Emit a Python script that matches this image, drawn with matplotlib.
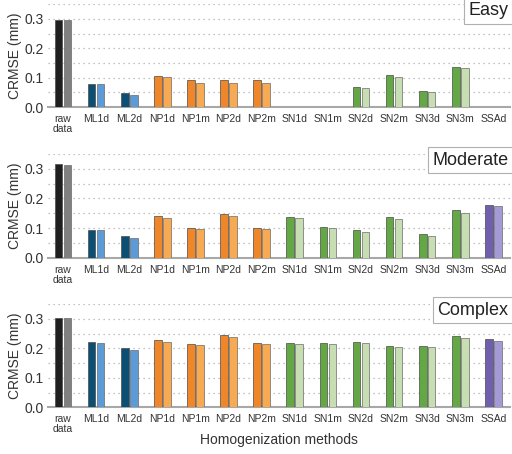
import numpy as np
import matplotlib.pyplot as plt

plt.rcParams['font.family'] = ['Liberation Sans', 'DejaVu Sans']

methods = ['raw\ndata', 'ML1d', 'ML2d', 'NP1d', 'NP1m', 'NP2d', 'NP2m',
           'SN1d', 'SN1m', 'SN2d', 'SN2m', 'SN3d', 'SN3m', 'SSAd']

# dark bar / light bar for each method (nan = no result)
easy_dark = [0.295, 0.080, 0.047, 0.105, 0.092, 0.091, 0.092,
             np.nan, np.nan, 0.069, 0.108, 0.056, 0.138, np.nan]
easy_light = [0.295, 0.077, 0.040, 0.101, 0.083, 0.082, 0.083,
              np.nan, np.nan, 0.064, 0.101, 0.051, 0.134, np.nan]

moderate_dark = [0.316, 0.095, 0.074, 0.140, 0.100, 0.147, 0.100,
                 0.136, 0.105, 0.094, 0.138, 0.079, 0.160, 0.178]
moderate_light = [0.314, 0.092, 0.067, 0.133, 0.097, 0.140, 0.097,
                  0.133, 0.100, 0.087, 0.131, 0.072, 0.151, 0.174]

complex_dark = [0.302, 0.221, 0.201, 0.227, 0.214, 0.245, 0.217,
                0.217, 0.217, 0.221, 0.208, 0.206, 0.241, 0.232]
complex_light = [0.302, 0.217, 0.193, 0.222, 0.210, 0.237, 0.214,
                 0.214, 0.214, 0.217, 0.203, 0.203, 0.234, 0.225]

groups = ['raw', 'ML', 'ML', 'NP', 'NP', 'NP', 'NP',
          'SN', 'SN', 'SN', 'SN', 'SN', 'SN', 'SSA']
dark_col = {'raw': '#1f1f1f', 'ML': '#0b4f75', 'NP': '#f0862a',
            'SN': '#64a845', 'SSA': '#6f5fad'}
light_col = {'raw': '#808080', 'ML': '#5c9bd6', 'NP': '#f7aa52',
             'SN': '#c6deb2', 'SSA': '#a49ad6'}

panels = [('Easy', easy_dark, easy_light),
          ('Moderate', moderate_dark, moderate_light),
          ('Complex', complex_dark, complex_light)]

fig = plt.figure(figsize=(5.12, 4.54), dpi=100)
rects = [[0.094, 0.7643, 0.902, 0.2262],
         [0.094, 0.4324, 0.902, 0.2286],
         [0.094, 0.1029, 0.902, 0.2275]]

x = np.arange(len(methods))
w = 0.23
for (name, dark, light), r in zip(panels, rects):
    ax = fig.add_axes(r)
    ax.bar(x - 0.135, dark, w, color=[dark_col[g] for g in groups],
           edgecolor='#4a4a4a', linewidth=0.5, zorder=3)
    ax.bar(x + 0.135, light, w, color=[light_col[g] for g in groups],
           edgecolor='#6a6a6a', linewidth=0.5, zorder=3)
    ax.set_xlim(-0.45, len(methods) - 0.5)
    ax.set_ylim(0, 0.35)
    ax.set_yticks([0.0, 0.1, 0.2, 0.3])
    ax.set_yticklabels(['0.0', '0.1', '0.2', '0.3'], fontsize=10, color='#333333')
    for yv in np.arange(0.05, 0.351, 0.05):
        ax.axhline(yv, color='#b0b0b0', linestyle=(0, (1, 3)), linewidth=0.9, zorder=1)
    ax.set_xticks(x)
    ax.set_xticklabels(methods, fontsize=7.5, color='#333333', linespacing=1.0)
    ax.tick_params(axis='x', length=0, pad=5)
    ax.tick_params(axis='y', length=0, pad=3)
    for s in ['top', 'right', 'left']:
        ax.spines[s].set_visible(False)
    ax.spines['bottom'].set_color('#a8a8a8')
    ax.spines['bottom'].set_linewidth(1.5)
    ax.set_ylabel('CRMSE (mm)', fontsize=10, color='#333333', labelpad=2)
    ax.text(0.997, 1.02, name, transform=ax.transAxes, ha='right', va='top',
            fontsize=13, color='#222222', zorder=5,
            bbox=dict(boxstyle='square,pad=0.25', facecolor='white',
                      edgecolor='#b0b0b0', linewidth=0.8))

fig.text(0.545, 0.03, 'Homogenization methods', ha='center', va='center',
         fontsize=10, color='#333333')

fig.savefig('out.png', dpi=100)
